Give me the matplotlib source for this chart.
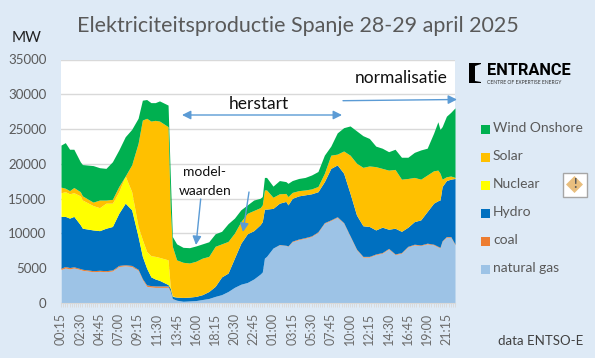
import matplotlib
matplotlib.use('Agg')
import matplotlib.pyplot as plt
import numpy as np
from matplotlib.patches import Polygon, Rectangle

# quarter-hour index along the axis, first slot is 00:15 on 28 april
quarter = [0, 2, 4, 6, 9, 10, 15, 18, 21, 24, 27, 30, 33, 36, 38, 40, 42, 44, 46, 50, 51, 52,
           54, 57, 60, 63, 66, 69, 72, 75, 78, 81, 84, 87, 90, 93, 94, 95, 96, 99, 102, 105,
           106, 108, 111, 114, 117, 120, 123, 126, 129, 132, 135, 138, 141, 144, 147, 150,
           153, 156, 159, 162, 165, 168, 171, 174, 176, 177, 178, 180, 182, 184]

# tops of the stacked areas (MW)
gas_top = [4800, 5050, 4900, 5050, 4800, 4700, 4500, 4550, 4500, 4600, 5250, 5350, 5250, 4700, 3350, 2400, 2300, 2250, 2250, 2250, 1650, 600,
           400, 250, 300, 350, 500, 650, 950, 1200, 1650, 2250, 2700, 2950, 3450, 4150, 4450, 6450, 6700, 7900, 8350, 8250,
           8150, 8800, 9100, 9300, 9550, 10150, 11450, 11850, 12300, 11450, 9550, 7650, 6600, 6600, 6950, 7150,
           7750, 6950, 7150, 8050, 8350, 8250, 8500, 8350, 8050, 7900, 8850, 9450, 9450, 8350]
coal_mw = [200, 200, 200, 150, 150, 150, 150, 150, 150, 150, 150, 150, 150, 150, 150, 200, 200, 200, 200, 200, 100, 50,
           0, 0, 0, 0, 0, 0, 0, 0, 0, 0, 0, 0, 0, 0, 0, 0, 0, 0, 50, 50,
           50, 100, 100, 100, 100, 100, 100, 100, 100, 100, 100, 100, 100, 100, 100, 100,
           100, 100, 100, 100, 100, 100, 100, 100, 100, 100, 100, 100, 100, 100]
hydro_top = [12450, 12450, 12200, 12450, 11250, 10750, 10500, 10400, 10750, 11000, 12900, 14350, 13400, 9550, 6700, 5000, 3750, 3450, 3250, 2650, 2150, 950,
             850, 800, 850, 950, 1200, 1650, 2400, 3750, 4300, 6450, 8600, 9950, 10400, 11250, 11700, 13500, 13500, 13600, 14350, 14600,
             14100, 15050, 15400, 15550, 15700, 16000, 17450, 19350, 19850, 18650, 15750, 12650, 11100, 11000, 10500, 10900,
             10600, 10750, 10300, 10900, 11700, 11950, 13150, 14350, 14700, 14800, 16750, 17600, 17800, 17900]
nuclear_mw = [3400, 3550, 3500, 3400, 4150, 4050, 3500, 3300, 3600, 3350, 3100, 3900, 2600, 1450, 2400, 2400, 3050, 3250, 3300, 3550, 250, 100,
              0, 0, 0, 0, 0, 0, 0, 0, 0, 0, 0, 0, 0, 0, 0, 0, 0, 0, 0, 0,
              0, 0, 0, 0, 0, 0, 0, 0, 0, 0, 0, 0, 0, 0, 0, 0,
              0, 0, 0, 0, 0, 0, 0, 0, 0, 0, 0, 0, 0, 0]
solar_top = [16650, 16500, 16150, 16600, 16000, 15400, 14500, 14800, 14800, 14900, 16750, 18250, 19850, 22950, 26300, 26550, 26150, 26250, 26150, 25350, 13850, 8150,
             6200, 5850, 5750, 6000, 6450, 6700, 8150, 8500, 8850, 10050, 11700, 12900, 13300, 13700, 14100, 16250, 16250, 15200, 15700, 15750,
             15300, 15900, 16150, 16250, 16400, 16750, 18650, 21250, 21400, 21850, 21250, 20100, 19500, 19700, 19600, 19350,
             19100, 19200, 17800, 17900, 18050, 17800, 18400, 19000, 19100, 18650, 17800, 18150, 18250, 18050]
wind_top = [22700, 23050, 22100, 22100, 20300, 19900, 19750, 19450, 19350, 20300, 22000, 23900, 24950, 26550, 29150, 29250, 28800, 28800, 29050, 28450, 18650, 9550,
            8500, 8000, 7950, 8200, 8500, 8800, 9950, 10300, 11400, 12200, 13400, 14100, 14800, 15050, 15300, 18050, 18050, 16800, 17600, 17450,
            17200, 17600, 17900, 18050, 18400, 18900, 21250, 22550, 24450, 25200, 25450, 24750, 24050, 23650, 22550, 22250,
            21750, 22100, 20950, 20950, 21650, 22000, 22250, 24400, 26050, 24950, 25350, 26850, 27400, 28050]

time_labels = ['00:15', '02:30', '04:45', '07:00', '09:15', '11:30', '13:45', '16:00', '18:15', '20:30', '22:45',
               '01:00', '03:15', '05:30', '07:45', '10:00', '12:15', '14:30', '16:45', '19:00', '21:15']
legend_names = ['Wind Onshore', 'Solar', 'Nuclear', 'Hydro', 'coal', 'natural gas']
legend_colors = ['#00B050', '#FFC000', '#FFFF00', '#0070C0', '#ED7D31', '#9DC3E6']

plt.rcParams['font.family'] = ['Lato', 'DejaVu Sans']
W, H = 595, 358
BG = '#DEEAF6'
GREY = '#595959'
BLUE = '#5B9BD5'

fig = plt.figure(figsize=(W / 100, H / 100), dpi=100, facecolor=BG)
ax = fig.add_axes([61 / W, 55 / H, 394 / W, 243.5 / H])

x = np.array(quarter)
gas = np.array(gas_top)
coal = gas + np.array(coal_mw)
hydro = np.array(hydro_top)
nuclear = hydro + np.array(nuclear_mw)
solar = np.array(solar_top)
wind = np.array(wind_top)

# stacked from the bottom up, same order as the legend read backwards
layers = [(np.zeros_like(gas), gas), (gas, coal), (coal, hydro), (hydro, nuclear), (nuclear, solar), (solar, wind)]
for (low, high), color in zip(layers, legend_colors[::-1]):
    ax.fill_between(x, low, high, color=color, linewidth=0, zorder=2)

ax.set_xlim(0, 184)
ax.set_ylim(0, 35000)
ax.set_yticks(range(0, 35001, 5000))
ax.grid(axis='y', color='#D9D9D9', linewidth=1, zorder=1)
ax.set_axisbelow(True)
ax.set_xticks(range(0, 181, 9))
ax.set_xticklabels(time_labels, rotation=90)
ax.set_xticks(range(0, 185), minor=True)
ax.tick_params(axis='x', which='both', length=3, color='#D9D9D9', width=0.6, labelsize=9, labelcolor='#6B6B6B', pad=4)
ax.tick_params(axis='y', length=0, labelsize=9.5, labelcolor=GREY, pad=10.5)
for side in ['left', 'right', 'top']:
    ax.spines[side].set_visible(False)
ax.spines['bottom'].set_color('#D9D9D9')

# overlay in picture pixels for the hand placed text, arrows and logo
over = fig.add_axes([0, 0, 1, 1], facecolor='none')
over.set_xlim(0, W)
over.set_ylim(H, 0)
over.axis('off')

over.text(298, 26, 'Elektriciteitsproductie Spanje 28-29 april 2025', fontsize=15.5, color=GREY, ha='center', va='center')
over.text(27, 38, 'MW', fontsize=11, color='#222222', ha='center', va='center')
over.text(259, 104, 'herstart', fontsize=12.5, color='#111111', ha='center', va='center')
over.text(401, 78, 'normalisatie', fontsize=12.5, color='#111111', ha='center', va='center')
over.text(205, 172, 'model-', fontsize=10, color='#111111', ha='center', va='center')
over.text(205, 191, 'waarden', fontsize=10, color='#111111', ha='center', va='center')
over.text(541, 341, 'data ENTSO-E', fontsize=9.5, color='#404040', ha='center', va='center')

arrow = dict(arrowstyle='-|>', color=BLUE, lw=1, mutation_scale=13, shrinkA=0, shrinkB=0)
over.annotate('', xy=(342, 115), xytext=(182, 115), arrowprops=dict(arrow, arrowstyle='<|-|>'))
over.annotate('', xy=(457, 99.5), xytext=(343, 100.7), arrowprops=arrow)
over.annotate('', xy=(196, 245), xytext=(200.7, 199), arrowprops=arrow)
over.annotate('', xy=(243, 232), xytext=(249, 192), arrowprops=arrow)

# legend
for i, (name, color) in enumerate(zip(legend_names, legend_colors)):
    y = 129 + i * 28
    over.add_patch(Rectangle((481, y - 4.5), 9, 9, facecolor=color, edgecolor='none'))
    over.text(493, y - 1, name, fontsize=10, color=GREY, va='center')

# logo
over.add_patch(Polygon([(469, 63), (481, 63), (481, 64), (475, 66), (475, 81), (481, 82), (481, 83), (469, 83)], facecolor='black'))
over.text(487, 70.5, 'ENTRANCE', fontsize=11.8, fontweight='bold', color='black', va='center', family=['Roboto', 'DejaVu Sans'])
over.text(487, 82, 'CENTRE OF EXPERTISE ENERGY', fontsize=3.6, color='#333333', va='center')

# warning icon
over.add_patch(Rectangle((562.5, 172.5), 24, 24, facecolor='white', edgecolor='#A6A6A6', linewidth=1))
over.add_patch(Polygon([(574.5, 176), (583, 184.5), (574.5, 193), (566, 184.5)], facecolor='#E8BE7E'))
over.text(574.5, 184.5, '!', fontsize=9, fontweight='bold', color='#595959', ha='center', va='center')

fig.savefig('out.png', dpi=100, facecolor=BG)
